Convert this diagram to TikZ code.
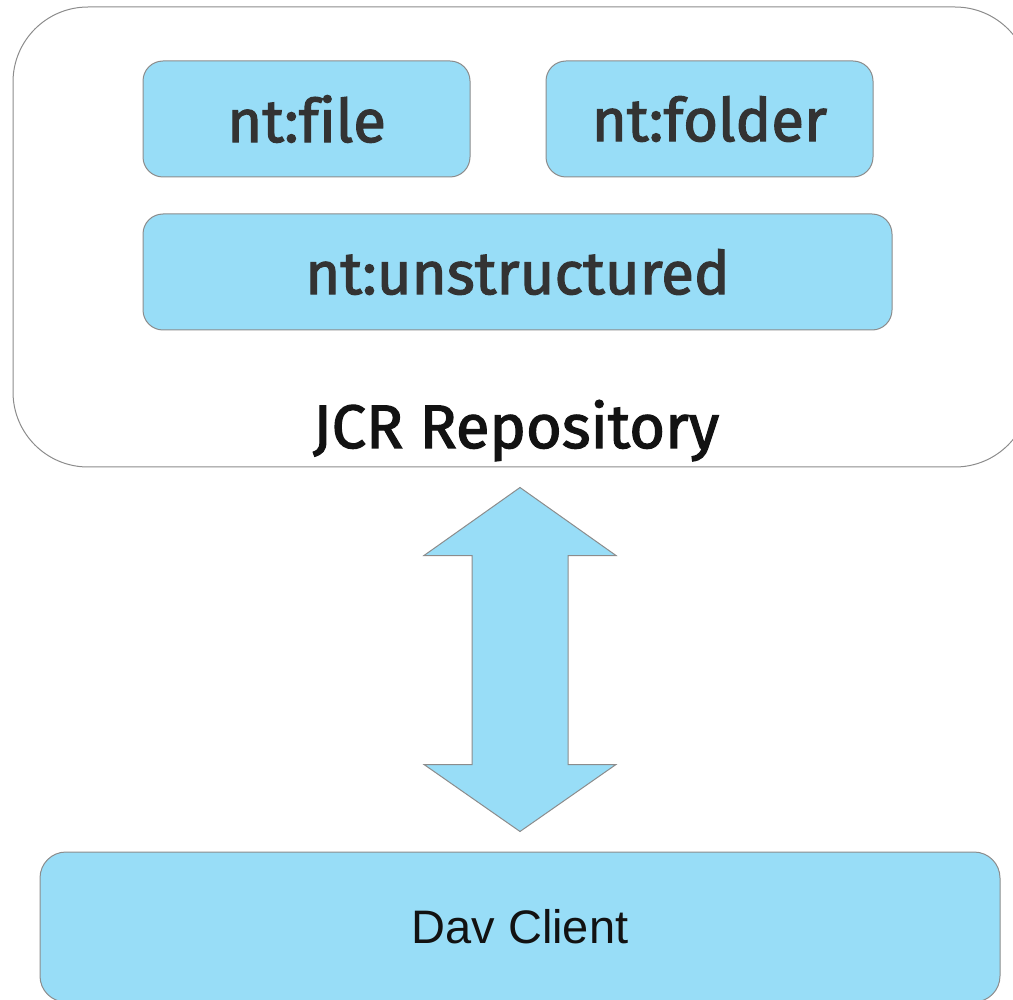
\documentclass[tikz,border=0pt]{standalone}
\usepackage{fontspec}
\usepackage{tikz}
\usetikzlibrary{calc}
\setmainfont{Fira Sans}[Ligatures=NoCommon]
\newfontfamily\labelfont{Fira Sans}[Ligatures=NoCommon, FakeBold=2.0]
\newfontfamily\clientfont{Liberation Sans}

\definecolor{boxblue}{HTML}{98DDF7}
\definecolor{edgegray}{HTML}{8C8C8C}
\definecolor{typetext}{HTML}{333333}

\tikzset{
  repobox/.style={draw=edgegray, line width=1pt, fill=white, rounded corners=75pt,
    minimum width=1017pt, minimum height=460pt, inner sep=0pt},
  typebox/.style={draw=edgegray, line width=1pt, fill=boxblue, rounded corners=20pt,
    minimum height=116pt, inner sep=0pt, text=typetext,
    font=\labelfont\fontsize{60}{68}\selectfont},
  clientbox/.style={draw=edgegray, line width=1pt, fill=boxblue, rounded corners=26pt,
    minimum width=960pt, minimum height=150pt, inner sep=0pt, text=black!93,
    font=\clientfont\fontsize{47}{53}\selectfont},
  linkarrow/.style={draw=edgegray, line width=1pt, fill=boxblue, line join=miter}
}

\begin{document}
\begin{tikzpicture}[x=1pt,y=-1pt]

\useasboundingbox (0,0) rectangle (1013,1000);
\clip (0,0) rectangle (1013,1000);

% repository frame
\node[repobox] (repo) at (521.5,237) {};
\node[anchor=base, text=black!93, font=\labelfont\fontsize{61.5}{70}\selectfont] (repolabel) at (516,448) {JCR Repository};

% node types
\node[typebox, minimum width=327pt] (file) at (306.5,119) {nt:file};
\node[typebox, minimum width=327pt] (folder) at (709.5,119) {nt:folder};
\node[typebox, minimum width=749pt] (unstructured) at (517.5,272) {nt:unstructured};

% client
\node[clientbox] (client) at (520,927) {Dav Client};

% double arrow between repository and client
\coordinate (tipA) at ($(repo.south -| 520,0)+(0,20)$);
\coordinate (tipB) at ($(client.north -| 520,0)+(0,-20)$);
\draw[linkarrow] (tipA) -- ++(96,68) -- ++(-48,0) -- ($(tipB)+(48,-67)$) -- ++(48,0)
  -- (tipB) -- ++(-96,-67) -- ++(48,0) -- ($(tipA)+(-48,68)$) -- ++(-48,0) -- cycle;

\end{tikzpicture}
\end{document}
